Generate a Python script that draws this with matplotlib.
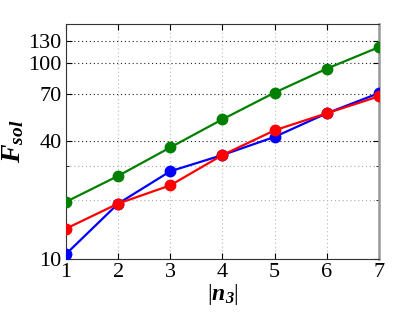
import matplotlib
matplotlib.use('Agg')
import matplotlib.pyplot as plt
from matplotlib.ticker import FixedLocator, NullFormatter

plt.rcParams['font.family'] = 'Liberation Serif'
plt.rcParams['mathtext.fontset'] = 'custom'
plt.rcParams['mathtext.rm'] = 'Liberation Serif'
plt.rcParams['mathtext.it'] = 'Liberation Serif:italic'
plt.rcParams['mathtext.bf'] = 'Liberation Serif:bold'
plt.rcParams['mathtext.bfit'] = 'Liberation Serif:bold:italic'

# data
n3 = [1, 2, 3, 4, 5, 6, 7]
f_blue = [10.6, 19.2, 28.1, 34.0, 42.1, 55.6, 70.5]
f_red = [14.3, 19.2, 23.8, 34.0, 45.5, 55.6, 67.9]
f_green = [19.6, 26.6, 37.2, 51.8, 70.9, 94.0, 121.1]
y_ticks = [10, 40, 70, 100, 130]
y_minor = [20, 30]

fig = plt.figure(figsize=(4.11, 3.22), dpi=100)
ax = fig.add_axes([0.1606, 0.1957, 0.7614, 0.7313])

ax.plot(n3, f_blue, '-o', color='#0000ff', lw=1.6, ms=7.5, zorder=3)
ax.plot(n3, f_red, '-o', color='#ff0000', lw=1.6, ms=7.5, zorder=4)
ax.plot(n3, f_green, '-o', color='#008000', lw=1.6, ms=7.5, zorder=3)

ax.set_yscale('log')
ax.set_xlim(1, 7)
ax.set_ylim(10, 160)
ax.set_xticks(n3)
ax.yaxis.set_major_locator(FixedLocator(y_ticks))
ax.set_yticklabels([str(t) for t in y_ticks])
ax.yaxis.set_minor_locator(FixedLocator(y_minor))
ax.yaxis.set_minor_formatter(NullFormatter())

ax.grid(True, which='major', axis='y', ls=(0, (1, 2.5)), color='#222222', lw=0.8)
ax.grid(True, which='minor', axis='y', ls=(0, (1, 2.5)), color='#aaaaaa', lw=0.8)
ax.grid(True, which='major', axis='x', ls=(0, (1, 2.5)), color='#bbbbbb', lw=0.8)

ax.tick_params(which='both', direction='in', top=True, right=True, labelsize=16, pad=3)
ax.tick_params(which='major', length=4)
ax.tick_params(which='minor', length=2)
for s in ['left', 'top', 'bottom']:
    ax.spines[s].set_color('#333333')
    ax.spines[s].set_linewidth(0.8)
ax.spines['right'].set_color('#999999')
ax.spines['right'].set_linewidth(1.8)

ax.set_xlabel(r'$|\mathbfit{n}_{\mathbfit{3}}|$', fontsize=17, labelpad=0)
ax.set_ylabel(r'$\mathbfit{F}_{\mathbfit{sol}}$', fontsize=20, labelpad=2)

fig.savefig('out.png', dpi=100)
